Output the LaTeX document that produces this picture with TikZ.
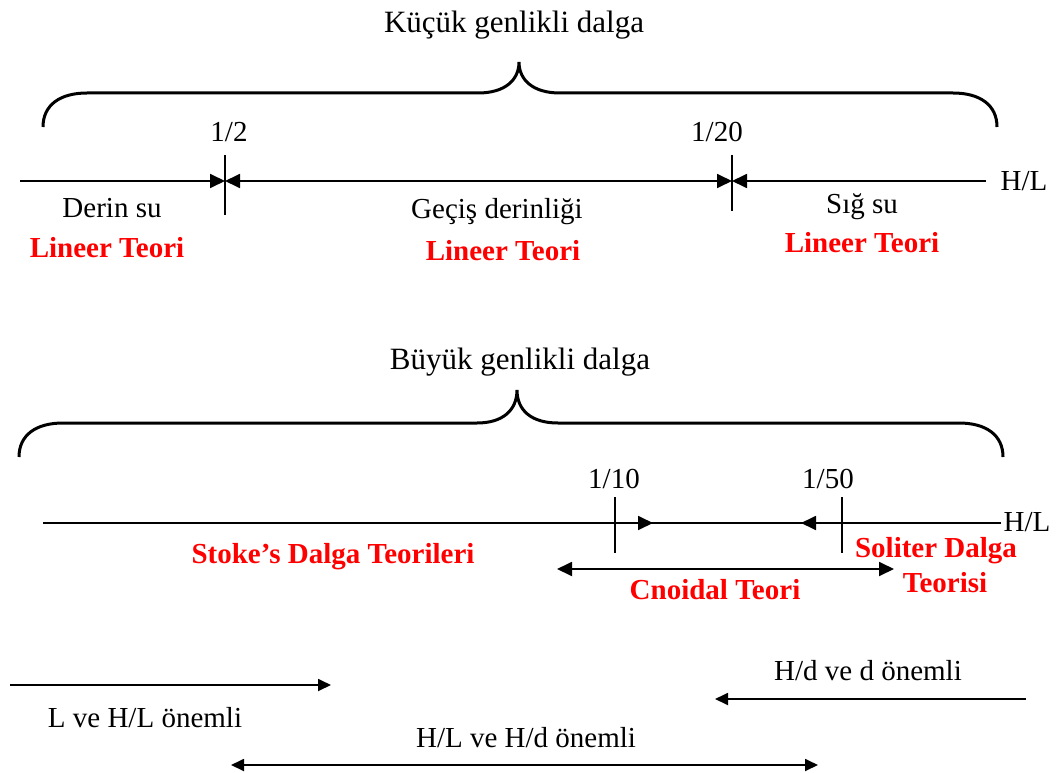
\documentclass[tikz,border=0pt]{standalone}
\usepackage{fontspec}
\setmainfont{Liberation Serif}
\usetikzlibrary{arrows.meta}
\definecolor{tred}{RGB}{255,0,0}
\begin{document}
\begin{tikzpicture}[x=1pt,y=-1pt,
  txt/.style={font=\fontsize{29}{34}\selectfont, inner sep=0pt},
  title/.style={font=\fontsize{31}{36}\selectfont, inner sep=0pt},
  theory/.style={font=\fontsize{29}{34}\selectfont\bfseries, text=tred, inner sep=0pt},
  axis/.style={line width=1.8pt},
  bracepath/.style={line width=3pt},
  tickline/.style={line width=1.6pt},
  bigtip/.style={-{Triangle[length=15pt,width=14pt]}},
  bigtips/.style={{Triangle[length=15pt,width=14pt]}-{Triangle[length=15pt,width=14pt]}},
  smalltip/.style={-{Triangle[length=13pt,width=12pt]}},
  smalltips/.style={{Triangle[length=13pt,width=12pt]}-{Triangle[length=13pt,width=12pt]}}
]
\useasboundingbox (0,0) rectangle (1060,773);

% ---------- top: small amplitude ----------
\node[title] (t1) at (514,25) {Küçük genlikli dalga};
\draw[bracepath] (43,127) .. controls (43,105) and (60,93) .. (87,93) -- (478,93)
  .. controls (505,93) and (519,80) .. (519,62)
  .. controls (519,80) and (533,93) .. (560,93) -- (953,93)
  .. controls (980,93) and (997,105) .. (997,127);

\coordinate (a0) at (20,181);
\coordinate (a1) at (225,181);
\coordinate (a2) at (732,181);
\coordinate (a3) at (986,181);
\coordinate (k1t) at (225,155); \coordinate (k1b) at (225,215);
\coordinate (k2t) at (732,155); \coordinate (k2b) at (732,211);
\draw[axis,bigtip] (a0) -- (a1);
\draw[axis,bigtips] (a1) -- (a2);
\draw[axis,bigtip] (a3) -- (a2);
\draw[tickline] (k1t) -- (k1b);
\draw[tickline] (k2t) -- (k2b);
\node[txt] (hl1) at (1024,181) {H/L};
\node[txt] (f12) at (229,132) {1/2};
\node[txt] (f120) at (717,132) {1/20};
\node[txt] (ds) at (112,208) {Derin su};
\node[theory] (lt1) at (107,248) {Lineer Teori};
\node[txt] (gd) at (497,212) {Geçiş derinliği};
\node[theory] (lt2) at (503,251) {Lineer Teori};
\node[txt] (ss) at (862,207) {Sığ su};
\node[theory] (lt3) at (862,243) {Lineer Teori};

% ---------- bottom: large amplitude ----------
\node[title] (t2) at (520,362) {Büyük genlikli dalga};
\draw[bracepath] (19,457) .. controls (19,435) and (36,423) .. (63,423) -- (477,423)
  .. controls (503,423) and (517,410) .. (517,390)
  .. controls (517,410) and (531,423) .. (558,423) -- (959,423)
  .. controls (986,423) and (1003,435) .. (1003,457);

\coordinate (b0) at (43,523);
\coordinate (b1) at (615,523);
\coordinate (b2) at (842,523);
\coordinate (b3) at (1001,523);
\coordinate (b1a) at (653,523);
\coordinate (b2a) at (801,523);
\coordinate (m1t) at (615,497); \coordinate (m1b) at (615,553);
\coordinate (m2t) at (842,497); \coordinate (m2b) at (842,553);
\draw[axis] (b0) -- (b3);
\draw[axis,bigtip] (b1) -- (b1a);
\draw[axis,bigtip] (b2) -- (b2a);
\draw[tickline] (m1t) -- (m1b);
\draw[tickline] (m2t) -- (m2b);
\node[txt] (hl2) at (1027,522) {H/L};
\node[txt] (f110) at (614,479) {1/10};
\node[txt] (f150) at (828,479) {1/50};
\node[theory] (st) at (333,557) {Stoke’s Dalga Teorileri};
\node[theory] (sol1) at (936,551) {Soliter Dalga};
\node[theory] (sol2) at (945,583) {Teorisi};
\coordinate (c0) at (557,569);
\coordinate (c1) at (894,569);
\draw[axis,bigtips] (c0) -- (c1);
\node[theory] (cn) at (715,590) {Cnoidal Teori};

% ---------- bottom arrows ----------
\coordinate (d0) at (10,685);
\coordinate (d1) at (331,685);
\draw[axis,smalltip] (d0) -- (d1);
\node[txt] (lhl) at (145,718) {L ve H/L önemli};
\coordinate (e0) at (1026,699);
\coordinate (e1) at (715,699);
\draw[axis,smalltip] (e0) -- (e1);
\node[txt] (hdd) at (868,671) {H/d ve d önemli};
\node[txt] (hlhd) at (526,738) {H/L ve H/d önemli};
\coordinate (g0) at (231,765);
\coordinate (g1) at (818,765);
\draw[axis,smalltips] (g0) -- (g1);
\end{tikzpicture}
\end{document}
